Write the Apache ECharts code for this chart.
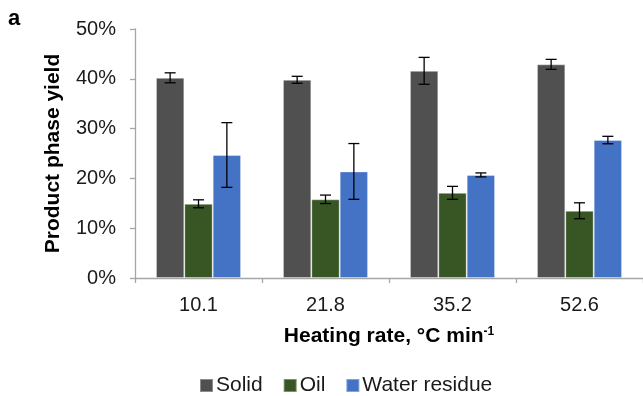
<!DOCTYPE html>
<html><head><meta charset="utf-8">
<script src="https://cdn.jsdelivr.net/npm/echarts@6/dist/echarts.min.js"></script>
<style>html,body{margin:0;padding:0;background:#fff}#c{width:643px;height:396px}</style>
</head><body><div id="c"></div>
<script>
const categories = ['10.1', '21.8', '35.2', '52.6'];
const seriesNames = ['Solid', 'Oil', 'Water residue'];
const solid = [40.2, 39.8, 41.6, 42.9];
const oil = [14.9, 15.8, 17.1, 13.5];
const water = [24.7, 21.4, 20.7, 27.7];
const solidErr = [1.0, 0.7, 2.7, 1.0];
const oilErr = [0.8, 0.85, 1.3, 1.6];
const waterErr = [6.5, 5.6, 0.4, 0.75];
const yTicks = [0, 10, 20, 30, 40, 50];

const colors = ['#505050', '#375623', '#4472C4'];
const values = [solid, oil, water];
const errs = [solidErr, oilErr, waterErr];
const GAP = 0.33;
const FONT = '"Liberation Sans", Arial, sans-serif';

const chart = echarts.init(document.getElementById('c'), null, {renderer: 'canvas'});

const barSeries = values.map((v, i) => ({
  name: seriesNames[i], type: 'bar', data: v,
  barGap: '0%', barCategoryGap: (GAP * 100) + '%',
  itemStyle: {color: colors[i], borderColor: 'rgba(255,255,255,0.35)', borderWidth: 1},
  emphasis: {disabled: true}, z: 2
}));

const errSeries = values.map((v, i) => ({
  type: 'custom', name: seriesNames[i] + ' err', z: 5, silent: true,
  data: v.map((val, k) => [k, val - errs[i][k], val + errs[i][k]]),
  renderItem: function (params, api) {
    const k = api.value(0);
    const catW = api.size([1, 0])[0];
    const bw = catW * (1 - GAP) / 3;
    const lo = api.coord([k, api.value(1)]);
    const hi = api.coord([k, api.value(2)]);
    const x = lo[0] + (i - 1) * bw;
    const cap = 5.5;
    const st = {stroke: '#000', lineWidth: 1.3};
    return {type: 'group', children: [
      {type: 'line', shape: {x1: x, y1: lo[1], x2: x, y2: hi[1]}, style: st},
      {type: 'line', shape: {x1: x - cap, y1: lo[1], x2: x + cap, y2: lo[1]}, style: st},
      {type: 'line', shape: {x1: x - cap, y1: hi[1], x2: x + cap, y2: hi[1]}, style: st}
    ]};
  }
}));

chart.setOption({
  animation: false,
  textStyle: {fontFamily: FONT},
  graphic: [{type: 'text', left: 8, top: 8, style: {text: 'a', font: 'bold 22px ' + FONT, fill: '#000'}}],
  grid: {left: 135, right: -4, top: 29, bottom: 118, containLabel: false},
  legend: {
    data: seriesNames, left: 194, top: 370, itemWidth: 13, itemHeight: 13, itemGap: 20,
    icon: 'rect', textStyle: {fontSize: 21, color: '#1a1a1a', fontFamily: FONT, padding: [0, 0, 0, -2]}
  },
  xAxis: {
    type: 'category', data: categories,
    axisLine: {lineStyle: {color: '#a6a6a6', width: 1.3}},
    axisTick: {show: true, length: 5, lineStyle: {color: '#a6a6a6', width: 1.3}, alignWithLabel: false},
    axisLabel: {fontSize: 20, color: '#1a1a1a', margin: 17, fontFamily: FONT},
    name: '{a|Heating rate, °C min}{s|-1}', nameLocation: 'middle', nameGap: 48,
    nameTextStyle: {rich: {
      a: {fontSize: 21, fontWeight: 'bold', color: '#000', fontFamily: FONT},
      s: {fontSize: 12, fontWeight: 'bold', color: '#000', fontFamily: FONT, padding: [0, 0, 9, 0]}
    }}
  },
  yAxis: {
    type: 'value', min: yTicks[0], max: yTicks[yTicks.length - 1], interval: 10,
    splitLine: {show: false},
    axisLine: {show: true, lineStyle: {color: '#a6a6a6', width: 1.3}},
    axisTick: {show: true, length: 5, lineStyle: {color: '#a6a6a6', width: 1.3}},
    axisLabel: {fontSize: 20, color: '#1a1a1a', margin: 19, formatter: '{value}%', fontFamily: FONT},
    name: 'Product phase yield', nameLocation: 'middle', nameGap: 71,
    nameTextStyle: {fontSize: 21, fontWeight: 'bold', color: '#000', fontFamily: FONT}
  },
  series: barSeries.concat(errSeries)
});
</script></body></html>
